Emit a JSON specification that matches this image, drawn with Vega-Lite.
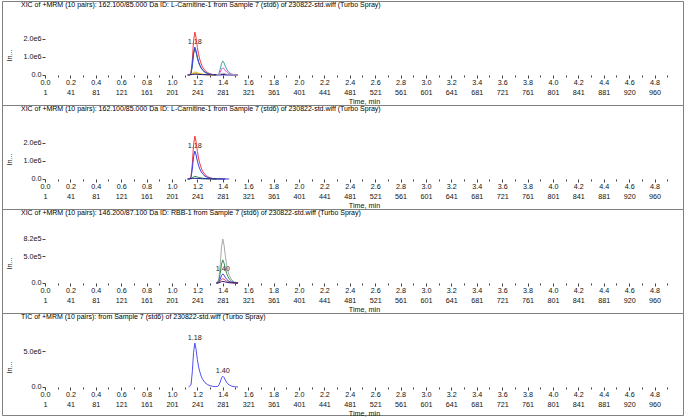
{
"$schema": "https://vega.github.io/schema/vega-lite/v6.json",
"background": "white",
"padding": {"left": 1, "top": 0, "right": 0, "bottom": 0},
"bounds": "flush",
"spacing": 0,
"config": {"font": "Liberation Sans", "view": {"stroke": "#808080", "strokeWidth": 1},
  "axis": {"labelFont": "Liberation Sans", "titleFont": "Liberation Sans", "labelFontSize": 7.2, "titleFontSize": 7.2, "titleFontWeight": "normal", "labelColor": "#111", "titleColor": "#111", "tickColor": "#444", "grid": false, "domain": false},
  "axisX": {"offset": -30, "tickSize": 3, "labelPadding": 0, "labelLineHeight": 10, "labelOverlap": false, "labelFlush": false, "labelBound": false, "labelAlign": "center", "labelBaseline": "top", "titleX": 362, "titleY": 26, "titleBaseline": "middle", "titleAlign": "center"},
  "axisY": {"offset": -43, "tickSize": 3, "labelPadding": 1, "labelOverlap": false, "titleX": -36, "titleY": 54, "titleAngle": -90, "titleAlign": "center", "titleBaseline": "middle"},
  "title": {"anchor": "start", "frame": "group", "offset": -7, "dx": 19, "fontSize": 7, "fontWeight": "normal", "font": "Liberation Sans", "color": "#000"}
},
"resolve": {"scale": {"x": "independent", "y": "independent"}},
"datasets": {
 "p1": [
  {"s":"red","t":1.13,"v":0},{"s":"red","t":1.14,"v":24000},{"s":"red","t":1.15,"v":143000},{"s":"red","t":1.16,"v":837000},{"s":"red","t":1.17,"v":1912000},{"s":"red","t":1.18,"v":2390000},{"s":"red","t":1.19,"v":2055000},{"s":"red","t":1.20,"v":1530000},{"s":"red","t":1.21,"v":1123000},{"s":"red","t":1.22,"v":837000},{"s":"red","t":1.23,"v":621000},{"s":"red","t":1.24,"v":454000},{"s":"red","t":1.26,"v":239000},{"s":"red","t":1.28,"v":131000},{"s":"red","t":1.30,"v":67000},{"s":"red","t":1.32,"v":29000},{"s":"red","t":1.35,"v":0},
  {"s":"green","t":1.13,"v":0},{"s":"green","t":1.14,"v":15000},{"s":"green","t":1.15,"v":87000},{"s":"green","t":1.16,"v":508000},{"s":"green","t":1.17,"v":1160000},{"s":"green","t":1.18,"v":1450000},{"s":"green","t":1.19,"v":1247000},{"s":"green","t":1.20,"v":928000},{"s":"green","t":1.21,"v":682000},{"s":"green","t":1.22,"v":508000},{"s":"green","t":1.23,"v":377000},{"s":"green","t":1.24,"v":276000},{"s":"green","t":1.26,"v":145000},{"s":"green","t":1.28,"v":80000},{"s":"green","t":1.30,"v":41000},{"s":"green","t":1.32,"v":17000},{"s":"green","t":1.35,"v":0},
  {"s":"blue","t":1.13,"v":0},{"s":"blue","t":1.14,"v":16000},{"s":"blue","t":1.15,"v":93000},{"s":"blue","t":1.16,"v":543000},{"s":"blue","t":1.17,"v":1240000},{"s":"blue","t":1.18,"v":1550000},{"s":"blue","t":1.19,"v":1333000},{"s":"blue","t":1.20,"v":992000},{"s":"blue","t":1.21,"v":729000},{"s":"blue","t":1.22,"v":543000},{"s":"blue","t":1.23,"v":403000},{"s":"blue","t":1.24,"v":295000},{"s":"blue","t":1.26,"v":155000},{"s":"blue","t":1.28,"v":85000},{"s":"blue","t":1.30,"v":43000},{"s":"blue","t":1.32,"v":19000},{"s":"blue","t":1.35,"v":8000},{"s":"blue","t":1.38,"v":10000},{"s":"blue","t":1.40,"v":14000},{"s":"blue","t":1.44,"v":8000},{"s":"blue","t":1.48,"v":3000},{"s":"blue","t":1.52,"v":0},
  {"s":"yellow","t":1.13,"v":0},{"s":"yellow","t":1.15,"v":30000},{"s":"yellow","t":1.17,"v":130000},{"s":"yellow","t":1.18,"v":170000},{"s":"yellow","t":1.19,"v":150000},{"s":"yellow","t":1.21,"v":100000},{"s":"yellow","t":1.23,"v":60000},{"s":"yellow","t":1.26,"v":30000},{"s":"yellow","t":1.30,"v":10000},{"s":"yellow","t":1.33,"v":0},
  {"s":"orange","t":1.13,"v":0},{"s":"orange","t":1.15,"v":20000},{"s":"orange","t":1.17,"v":80000},{"s":"orange","t":1.18,"v":100000},{"s":"orange","t":1.19,"v":90000},{"s":"orange","t":1.21,"v":60000},{"s":"orange","t":1.23,"v":35000},{"s":"orange","t":1.26,"v":18000},{"s":"orange","t":1.30,"v":6000},{"s":"orange","t":1.33,"v":0},
  {"s":"navy","t":1.12,"v":0},{"s":"navy","t":1.14,"v":10000},{"s":"navy","t":1.16,"v":30000},{"s":"navy","t":1.18,"v":45000},{"s":"navy","t":1.20,"v":35000},{"s":"navy","t":1.24,"v":20000},{"s":"navy","t":1.30,"v":10000},{"s":"navy","t":1.36,"v":8000},{"s":"navy","t":1.40,"v":20000},{"s":"navy","t":1.44,"v":12000},{"s":"navy","t":1.48,"v":5000},{"s":"navy","t":1.52,"v":0},
  {"s":"teal","t":1.35,"v":0},{"s":"teal","t":1.36,"v":16000},{"s":"teal","t":1.37,"v":94000},{"s":"teal","t":1.38,"v":328000},{"s":"teal","t":1.39,"v":640000},{"s":"teal","t":1.40,"v":780000},{"s":"teal","t":1.41,"v":671000},{"s":"teal","t":1.42,"v":484000},{"s":"teal","t":1.43,"v":328000},{"s":"teal","t":1.44,"v":218000},{"s":"teal","t":1.45,"v":140000},{"s":"teal","t":1.47,"v":55000},{"s":"teal","t":1.49,"v":20000},{"s":"teal","t":1.52,"v":0},
  {"s":"magenta","t":1.35,"v":0},{"s":"magenta","t":1.36,"v":8000},{"s":"magenta","t":1.37,"v":48000},{"s":"magenta","t":1.38,"v":168000},{"s":"magenta","t":1.39,"v":328000},{"s":"magenta","t":1.40,"v":400000},{"s":"magenta","t":1.41,"v":344000},{"s":"magenta","t":1.42,"v":248000},{"s":"magenta","t":1.43,"v":168000},{"s":"magenta","t":1.44,"v":112000},{"s":"magenta","t":1.45,"v":72000},{"s":"magenta","t":1.47,"v":28000},{"s":"magenta","t":1.49,"v":10000},{"s":"magenta","t":1.52,"v":0},
  {"s":"gray","t":1.35,"v":0},{"s":"gray","t":1.36,"v":2000},{"s":"gray","t":1.37,"v":12000},{"s":"gray","t":1.38,"v":42000},{"s":"gray","t":1.39,"v":82000},{"s":"gray","t":1.40,"v":100000},{"s":"gray","t":1.41,"v":86000},{"s":"gray","t":1.42,"v":62000},{"s":"gray","t":1.43,"v":42000},{"s":"gray","t":1.44,"v":28000},{"s":"gray","t":1.45,"v":18000},{"s":"gray","t":1.47,"v":7000},{"s":"gray","t":1.49,"v":2500},{"s":"gray","t":1.52,"v":0}
 ],
 "p2": [
  {"s":"red","t":1.13,"v":0},{"s":"red","t":1.14,"v":24000},{"s":"red","t":1.15,"v":143000},{"s":"red","t":1.16,"v":837000},{"s":"red","t":1.17,"v":1912000},{"s":"red","t":1.18,"v":2390000},{"s":"red","t":1.19,"v":2055000},{"s":"red","t":1.20,"v":1530000},{"s":"red","t":1.21,"v":1123000},{"s":"red","t":1.22,"v":837000},{"s":"red","t":1.23,"v":621000},{"s":"red","t":1.24,"v":454000},{"s":"red","t":1.26,"v":239000},{"s":"red","t":1.28,"v":131000},{"s":"red","t":1.30,"v":67000},{"s":"red","t":1.32,"v":29000},{"s":"red","t":1.35,"v":0},
  {"s":"blue","t":1.13,"v":0},{"s":"blue","t":1.14,"v":16000},{"s":"blue","t":1.15,"v":93000},{"s":"blue","t":1.16,"v":543000},{"s":"blue","t":1.17,"v":1240000},{"s":"blue","t":1.18,"v":1550000},{"s":"blue","t":1.19,"v":1333000},{"s":"blue","t":1.20,"v":992000},{"s":"blue","t":1.21,"v":729000},{"s":"blue","t":1.22,"v":543000},{"s":"blue","t":1.23,"v":403000},{"s":"blue","t":1.24,"v":295000},{"s":"blue","t":1.26,"v":155000},{"s":"blue","t":1.28,"v":85000},{"s":"blue","t":1.30,"v":43000},{"s":"blue","t":1.32,"v":19000},{"s":"blue","t":1.35,"v":8000},{"s":"blue","t":1.40,"v":3000},{"s":"blue","t":1.45,"v":0},
  {"s":"green","t":1.13,"v":0},{"s":"green","t":1.15,"v":30000},{"s":"green","t":1.17,"v":110000},{"s":"green","t":1.18,"v":150000},{"s":"green","t":1.19,"v":130000},{"s":"green","t":1.21,"v":90000},{"s":"green","t":1.23,"v":55000},{"s":"green","t":1.26,"v":28000},{"s":"green","t":1.30,"v":10000},{"s":"green","t":1.35,"v":0},
  {"s":"navy","t":1.12,"v":0},{"s":"navy","t":1.14,"v":10000},{"s":"navy","t":1.16,"v":30000},{"s":"navy","t":1.18,"v":40000},{"s":"navy","t":1.20,"v":30000},{"s":"navy","t":1.24,"v":15000},{"s":"navy","t":1.30,"v":6000},{"s":"navy","t":1.36,"v":3000},{"s":"navy","t":1.42,"v":0}
 ],
 "p3": [
  {"s":"gray","t":1.35,"v":0},{"s":"gray","t":1.36,"v":16000},{"s":"gray","t":1.37,"v":98000},{"s":"gray","t":1.38,"v":344000},{"s":"gray","t":1.39,"v":672000},{"s":"gray","t":1.40,"v":820000},{"s":"gray","t":1.41,"v":705000},{"s":"gray","t":1.42,"v":508000},{"s":"gray","t":1.43,"v":344000},{"s":"gray","t":1.44,"v":230000},{"s":"gray","t":1.45,"v":148000},{"s":"gray","t":1.47,"v":57000},{"s":"gray","t":1.49,"v":21000},{"s":"gray","t":1.52,"v":0},
  {"s":"green","t":1.35,"v":0},{"s":"green","t":1.36,"v":9000},{"s":"green","t":1.37,"v":52000},{"s":"green","t":1.38,"v":181000},{"s":"green","t":1.39,"v":353000},{"s":"green","t":1.40,"v":430000},{"s":"green","t":1.41,"v":370000},{"s":"green","t":1.42,"v":267000},{"s":"green","t":1.43,"v":181000},{"s":"green","t":1.44,"v":120000},{"s":"green","t":1.45,"v":77000},{"s":"green","t":1.47,"v":30000},{"s":"green","t":1.49,"v":11000},{"s":"green","t":1.52,"v":0},
  {"s":"blue","t":1.35,"v":0},{"s":"blue","t":1.36,"v":3000},{"s":"blue","t":1.37,"v":20000},{"s":"blue","t":1.38,"v":71000},{"s":"blue","t":1.39,"v":139000},{"s":"blue","t":1.40,"v":170000},{"s":"blue","t":1.41,"v":146000},{"s":"blue","t":1.42,"v":105000},{"s":"blue","t":1.43,"v":71000},{"s":"blue","t":1.44,"v":48000},{"s":"blue","t":1.45,"v":31000},{"s":"blue","t":1.47,"v":12000},{"s":"blue","t":1.49,"v":4000},{"s":"blue","t":1.52,"v":0},
  {"s":"red","t":1.35,"v":0},{"s":"red","t":1.36,"v":2000},{"s":"red","t":1.37,"v":10000},{"s":"red","t":1.38,"v":34000},{"s":"red","t":1.39,"v":66000},{"s":"red","t":1.40,"v":80000},{"s":"red","t":1.41,"v":69000},{"s":"red","t":1.42,"v":50000},{"s":"red","t":1.43,"v":34000},{"s":"red","t":1.44,"v":22000},{"s":"red","t":1.45,"v":14000},{"s":"red","t":1.47,"v":6000},{"s":"red","t":1.49,"v":2000},{"s":"red","t":1.52,"v":0},
  {"s":"navy","t":1.35,"v":0},{"s":"navy","t":1.36,"v":1000},{"s":"navy","t":1.37,"v":4000},{"s":"navy","t":1.38,"v":13000},{"s":"navy","t":1.39,"v":25000},{"s":"navy","t":1.40,"v":30000},{"s":"navy","t":1.41,"v":26000},{"s":"navy","t":1.42,"v":19000},{"s":"navy","t":1.43,"v":13000},{"s":"navy","t":1.44,"v":8000},{"s":"navy","t":1.45,"v":5000},{"s":"navy","t":1.47,"v":2000},{"s":"navy","t":1.49,"v":1000},{"s":"navy","t":1.52,"v":0}
 ],
 "p4": [
  {"s":"tic","t":1.13,"v":0},{"s":"tic","t":1.15,"v":300000},{"s":"tic","t":1.16,"v":2100000},{"s":"tic","t":1.17,"v":4800000},{"s":"tic","t":1.18,"v":6100000},{"s":"tic","t":1.19,"v":5200000},{"s":"tic","t":1.20,"v":3800000},{"s":"tic","t":1.21,"v":2750000},{"s":"tic","t":1.22,"v":2050000},{"s":"tic","t":1.23,"v":1500000},{"s":"tic","t":1.24,"v":1100000},{"s":"tic","t":1.26,"v":600000},{"s":"tic","t":1.28,"v":330000},{"s":"tic","t":1.30,"v":180000},{"s":"tic","t":1.32,"v":90000},{"s":"tic","t":1.34,"v":50000},{"s":"tic","t":1.36,"v":80000},{"s":"tic","t":1.37,"v":300000},{"s":"tic","t":1.38,"v":700000},{"s":"tic","t":1.39,"v":1250000},{"s":"tic","t":1.40,"v":1500000},{"s":"tic","t":1.41,"v":1320000},{"s":"tic","t":1.42,"v":970000},{"s":"tic","t":1.43,"v":660000},{"s":"tic","t":1.44,"v":440000},{"s":"tic","t":1.45,"v":290000},{"s":"tic","t":1.47,"v":120000},{"s":"tic","t":1.49,"v":50000},{"s":"tic","t":1.51,"v":10000},{"s":"tic","t":1.52,"v":0}
 ],
 "labels": [
  {"p":1,"t":1.18,"v":1550000,"label":"1.18"},
  {"p":2,"t":1.18,"v":1550000,"label":"1.18"},
  {"p":3,"t":1.40,"v":170000,"label":"1.40"},
  {"p":4,"t":1.18,"v":6100000,"label":"1.18"},
  {"p":4,"t":1.40,"v":1500000,"label":"1.40"}
 ]
},
"vconcat": [
 {
  "width": 681, "height": 104,
  "title": {"text": "XIC of +MRM (10 pairs): 162.100/85.000 Da ID: L-Carnitine-1 from Sample 7 (std6) of 230822-std.wiff (Turbo Spray)"},
  "resolve": {"axis": {"x": "independent"}},
  "layer": [
   {"mark": {"type": "rule", "color": "#555"}, "encoding": {
     "x": {"datum": 0, "type": "quantitative", "scale": {"domain": [-0.3386, 5.024], "nice": false, "zero": false}, "axis": {"orient": "bottom", "title": "Time, min", "labelOverlap": false, "values": [0,0.2,0.4,0.6,0.8,1.0,1.2,1.4,1.6,1.8,2.0,2.2,2.4,2.6,2.8,3.0,3.2,3.4,3.6,3.8,4.0,4.2,4.4,4.6,4.8], "labelExpr": "[format(datum.value,'.1f'), ['1','41','81','121','161','201','241','281','321','361','401','441','481','521','561','601','641','681','721','761','801','841','881','920','960'][round(datum.value*5)]]"}},
     "x2": {"datum": 5.0},
     "y": {"datum": 0, "type": "quantitative", "scale": {"domain": [-1666700, 4111100], "nice": false, "zero": false}, "axis": {"title": "In...", "labelOverlap": false, "values": [0, 1000000, 2000000], "labelExpr": "datum.value==0 ? '0.0' : format(datum.value/1e6,'.1f')+'e6'"}}}},
   {"mark": {"type": "rule", "color": "#555"}, "encoding": {"x": {"datum": 0, "type": "quantitative", "axis": {"orient": "bottom", "title": null, "labels": false, "tickSize": 2, "values": [0.1,0.3,0.5,0.7,0.9,1.1,1.3,1.5,1.7,1.9,2.1,2.3,2.5,2.7,2.9,3.1,3.3,3.5,3.7,3.9,4.1,4.3,4.5,4.7,4.9]}}, "y": {"datum": 0, "type": "quantitative"}, "y2": {"datum": 2300000}}},
   {"data": {"name": "labels"}, "transform": [{"filter": "datum.p==1"}], "mark": {"type": "text", "baseline": "bottom", "fontSize": 7.2, "color": "#222", "dy": -1}, "encoding": {"x": {"field": "t", "type": "quantitative", "axis": null}, "y": {"field": "v", "type": "quantitative"}, "text": {"field": "label"}}},
   {"data": {"name": "p1"}, "mark": {"type": "line", "strokeWidth": 1}, "encoding": {"x": {"field": "t", "type": "quantitative", "axis": null}, "y": {"field": "v", "type": "quantitative"}, "color": {"field": "s", "type": "nominal", "legend": null, "scale": {"domain": ["red","green","blue","yellow","orange","navy","teal","magenta","gray","tic"], "range": ["#f23c3c","#2f8f4f","#3b3bf0","#d9c200","#f08a20","#1a1a8c","#3aa6a6","#f050f0","#a8a8a8","#5050f5"]}}}},
   {"mark": {"type": "text", "align": "left", "baseline": "bottom", "font": "DejaVu Sans", "fontSize": 6, "color": "#0000e0"}, "encoding": {"x": {"datum": 0, "type": "quantitative", "axis": null}, "y": {"datum": 0, "type": "quantitative"}, "text": {"value": "▶"}}},
   {"mark": {"type": "text", "align": "center", "baseline": "middle", "font": "DejaVu Sans", "fontSize": 8, "color": "#0000f0"}, "encoding": {"x": {"datum": -0.268, "type": "quantitative", "axis": null}, "y": {"datum": 3780000, "type": "quantitative"}, "text": {"value": "■"}}},
   {"mark": {"type": "text", "align": "right", "baseline": "middle", "fontSize": 7, "color": "#000"}, "encoding": {"x": {"datum": 5.016, "type": "quantitative", "axis": null}, "y": {"datum": 3780000, "type": "quantitative"}, "text": {"value": "Max. 1.6e6 cps"}}}
  ]
 },
 {
  "width": 681, "height": 104,
  "title": {"text": "XIC of +MRM (10 pairs): 162.100/85.000 Da ID: L-Carnitine-1 from Sample 7 (std6) of 230822-std.wiff (Turbo Spray)"},
  "resolve": {"axis": {"x": "independent"}},
  "layer": [
   {"mark": {"type": "rule", "color": "#555"}, "encoding": {
     "x": {"datum": 0, "type": "quantitative", "scale": {"domain": [-0.3386, 5.024], "nice": false, "zero": false}, "axis": {"orient": "bottom", "title": "Time, min", "labelOverlap": false, "values": [0,0.2,0.4,0.6,0.8,1.0,1.2,1.4,1.6,1.8,2.0,2.2,2.4,2.6,2.8,3.0,3.2,3.4,3.6,3.8,4.0,4.2,4.4,4.6,4.8], "labelExpr": "[format(datum.value,'.1f'), ['1','41','81','121','161','201','241','281','321','361','401','441','481','521','561','601','641','681','721','761','801','841','881','920','960'][round(datum.value*5)]]"}},
     "x2": {"datum": 5.0},
     "y": {"datum": 0, "type": "quantitative", "scale": {"domain": [-1666700, 4111100], "nice": false, "zero": false}, "axis": {"title": "In...", "labelOverlap": false, "values": [0, 1000000, 2000000], "labelExpr": "datum.value==0 ? '0.0' : format(datum.value/1e6,'.1f')+'e6'"}}}},
   {"mark": {"type": "rule", "color": "#555"}, "encoding": {"x": {"datum": 0, "type": "quantitative", "axis": {"orient": "bottom", "title": null, "labels": false, "tickSize": 2, "values": [0.1,0.3,0.5,0.7,0.9,1.1,1.3,1.5,1.7,1.9,2.1,2.3,2.5,2.7,2.9,3.1,3.3,3.5,3.7,3.9,4.1,4.3,4.5,4.7,4.9]}}, "y": {"datum": 0, "type": "quantitative"}, "y2": {"datum": 2300000}}},
   {"data": {"name": "labels"}, "transform": [{"filter": "datum.p==2"}], "mark": {"type": "text", "baseline": "bottom", "fontSize": 7.2, "color": "#222", "dy": -1}, "encoding": {"x": {"field": "t", "type": "quantitative", "axis": null}, "y": {"field": "v", "type": "quantitative"}, "text": {"field": "label"}}},
   {"data": {"name": "p2"}, "mark": {"type": "line", "strokeWidth": 1}, "encoding": {"x": {"field": "t", "type": "quantitative", "axis": null}, "y": {"field": "v", "type": "quantitative"}, "color": {"field": "s", "type": "nominal", "legend": null, "scale": {"domain": ["red","green","blue","yellow","orange","navy","teal","magenta","gray","tic"], "range": ["#f23c3c","#2f8f4f","#3b3bf0","#d9c200","#f08a20","#1a1a8c","#3aa6a6","#f050f0","#a8a8a8","#5050f5"]}}}},
   {"mark": {"type": "text", "align": "left", "baseline": "bottom", "font": "DejaVu Sans", "fontSize": 6, "color": "#0000e0"}, "encoding": {"x": {"datum": 0, "type": "quantitative", "axis": null}, "y": {"datum": 0, "type": "quantitative"}, "text": {"value": "▶"}}},
   {"mark": {"type": "text", "align": "center", "baseline": "middle", "font": "DejaVu Sans", "fontSize": 8, "color": "#0000f0"}, "encoding": {"x": {"datum": -0.268, "type": "quantitative", "axis": null}, "y": {"datum": 3780000, "type": "quantitative"}, "text": {"value": "■"}}},
   {"mark": {"type": "text", "align": "right", "baseline": "middle", "fontSize": 7, "color": "#000"}, "encoding": {"x": {"datum": 5.016, "type": "quantitative", "axis": null}, "y": {"datum": 3780000, "type": "quantitative"}, "text": {"value": "Max. 1.6e6 cps"}}}
  ]
 },
 {
  "width": 681, "height": 104,
  "title": {"text": "XIC of +MRM (10 pairs): 146.200/87.100 Da ID: RBB-1 from Sample 7 (std6) of 230822-std.wiff (Turbo Spray)"},
  "resolve": {"axis": {"x": "independent"}},
  "layer": [
   {"mark": {"type": "rule", "color": "#555"}, "encoding": {
     "x": {"datum": 0, "type": "quantitative", "scale": {"domain": [-0.3386, 5.024], "nice": false, "zero": false}, "axis": {"orient": "bottom", "title": "Time, min", "labelOverlap": false, "values": [0,0.2,0.4,0.6,0.8,1.0,1.2,1.4,1.6,1.8,2.0,2.2,2.4,2.6,2.8,3.0,3.2,3.4,3.6,3.8,4.0,4.2,4.4,4.6,4.8], "labelExpr": "[format(datum.value,'.1f'), ['1','41','81','121','161','201','241','281','321','361','401','441','481','521','561','601','641','681','721','761','801','841','881','920','960'][round(datum.value*5)]]"}},
     "x2": {"datum": 5.0},
     "y": {"datum": 0, "type": "quantitative", "scale": {"domain": [-558700, 1378000], "nice": false, "zero": false}, "axis": {"title": "In...", "labelOverlap": false, "values": [0, 500000, 820000], "labelExpr": "datum.value==0 ? '0.0' : format(datum.value/1e5,'.1f')+'e5'"}}}},
   {"mark": {"type": "rule", "color": "#555"}, "encoding": {"x": {"datum": 0, "type": "quantitative", "axis": {"orient": "bottom", "title": null, "labels": false, "tickSize": 2, "values": [0.1,0.3,0.5,0.7,0.9,1.1,1.3,1.5,1.7,1.9,2.1,2.3,2.5,2.7,2.9,3.1,3.3,3.5,3.7,3.9,4.1,4.3,4.5,4.7,4.9]}}, "y": {"datum": 0, "type": "quantitative"}, "y2": {"datum": 820000}}},
   {"data": {"name": "labels"}, "transform": [{"filter": "datum.p==3"}], "mark": {"type": "text", "baseline": "bottom", "fontSize": 7.2, "color": "#222", "dy": -1}, "encoding": {"x": {"field": "t", "type": "quantitative", "axis": null}, "y": {"field": "v", "type": "quantitative"}, "text": {"field": "label"}}},
   {"data": {"name": "p3"}, "mark": {"type": "line", "strokeWidth": 1}, "encoding": {"x": {"field": "t", "type": "quantitative", "axis": null}, "y": {"field": "v", "type": "quantitative"}, "color": {"field": "s", "type": "nominal", "legend": null, "scale": {"domain": ["red","green","blue","yellow","orange","navy","teal","magenta","gray","tic"], "range": ["#f23c3c","#2f8f4f","#3b3bf0","#d9c200","#f08a20","#1a1a8c","#3aa6a6","#f050f0","#a8a8a8","#5050f5"]}}}},
   {"mark": {"type": "text", "align": "left", "baseline": "bottom", "font": "DejaVu Sans", "fontSize": 6, "color": "#0000e0"}, "encoding": {"x": {"datum": 0, "type": "quantitative", "axis": null}, "y": {"datum": 0, "type": "quantitative"}, "text": {"value": "▶"}}},
   {"mark": {"type": "text", "align": "center", "baseline": "middle", "font": "DejaVu Sans", "fontSize": 8, "color": "#0000f0"}, "encoding": {"x": {"datum": -0.268, "type": "quantitative", "axis": null}, "y": {"datum": 1266000, "type": "quantitative"}, "text": {"value": "■"}}},
   {"mark": {"type": "text", "align": "right", "baseline": "middle", "fontSize": 7, "color": "#000"}, "encoding": {"x": {"datum": 5.016, "type": "quantitative", "axis": null}, "y": {"datum": 1266000, "type": "quantitative"}, "text": {"value": "Max. 1.5e5 cps"}}}
  ]
 },
 {
  "width": 681, "height": 102,
  "title": {"text": "TIC of +MRM (10 pairs): from Sample 7 (std6) of 230822-std.wiff (Turbo Spray)"},
  "resolve": {"axis": {"x": "independent"}},
  "layer": [
   {"mark": {"type": "rule", "color": "#555"}, "encoding": {
     "x": {"datum": 0, "type": "quantitative", "scale": {"domain": [-0.3386, 5.024], "nice": false, "zero": false}, "axis": {"orient": "bottom", "title": "Time, min", "offset": -28, "labelOverlap": false, "values": [0,0.2,0.4,0.6,0.8,1.0,1.2,1.4,1.6,1.8,2.0,2.2,2.4,2.6,2.8,3.0,3.2,3.4,3.6,3.8,4.0,4.2,4.4,4.6,4.8], "labelExpr": "[format(datum.value,'.1f'), ['1','41','81','121','161','201','241','281','321','361','401','441','481','521','561','601','641','681','721','761','801','841','881','920','960'][round(datum.value*5)]]"}},
     "x2": {"datum": 5.0},
     "y": {"datum": 0, "type": "quantitative", "scale": {"domain": [-3889000, 10278000], "nice": false, "zero": false}, "axis": {"title": "In...", "labelOverlap": false, "values": [0, 5000000], "labelExpr": "datum.value==0 ? '0.0' : format(datum.value/1e6,'.1f')+'e6'"}}}},
   {"mark": {"type": "rule", "color": "#555"}, "encoding": {"x": {"datum": 0, "type": "quantitative", "axis": {"orient": "bottom", "offset": -28, "title": null, "labels": false, "tickSize": 2, "values": [0.1,0.3,0.5,0.7,0.9,1.1,1.3,1.5,1.7,1.9,2.1,2.3,2.5,2.7,2.9,3.1,3.3,3.5,3.7,3.9,4.1,4.3,4.5,4.7,4.9]}}, "y": {"datum": 0, "type": "quantitative"}, "y2": {"datum": 5900000}}},
   {"data": {"name": "labels"}, "transform": [{"filter": "datum.p==4"}], "mark": {"type": "text", "baseline": "bottom", "fontSize": 7.2, "color": "#222", "dy": -1}, "encoding": {"x": {"field": "t", "type": "quantitative", "axis": null}, "y": {"field": "v", "type": "quantitative"}, "text": {"field": "label"}}},
   {"data": {"name": "p4"}, "mark": {"type": "line", "strokeWidth": 1}, "encoding": {"x": {"field": "t", "type": "quantitative", "axis": null}, "y": {"field": "v", "type": "quantitative"}, "color": {"field": "s", "type": "nominal", "legend": null, "scale": {"domain": ["red","green","blue","yellow","orange","navy","teal","magenta","gray","tic"], "range": ["#f23c3c","#2f8f4f","#3b3bf0","#d9c200","#f08a20","#1a1a8c","#3aa6a6","#f050f0","#a8a8a8","#5050f5"]}}}},
   {"mark": {"type": "text", "align": "left", "baseline": "bottom", "font": "DejaVu Sans", "fontSize": 6, "color": "#0000e0"}, "encoding": {"x": {"datum": 0, "type": "quantitative", "axis": null}, "y": {"datum": 0, "type": "quantitative"}, "text": {"value": "▶"}}},
   {"mark": {"type": "text", "align": "center", "baseline": "middle", "font": "DejaVu Sans", "fontSize": 8, "color": "#0000f0"}, "encoding": {"x": {"datum": -0.268, "type": "quantitative", "axis": null}, "y": {"datum": 9444000, "type": "quantitative"}, "text": {"value": "■"}}},
   {"mark": {"type": "text", "align": "right", "baseline": "middle", "fontSize": 7, "color": "#000"}, "encoding": {"x": {"datum": 5.016, "type": "quantitative", "axis": null}, "y": {"datum": 9444000, "type": "quantitative"}, "text": {"value": "Max. 6.1e6 cps"}}}
  ]
 }
]
}
